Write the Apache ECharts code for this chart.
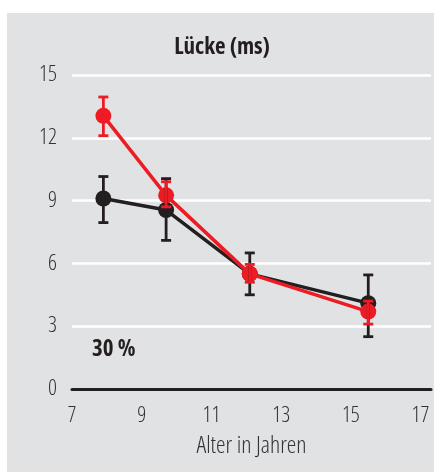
<!DOCTYPE html>
<html>
<head>
<meta charset="utf-8">
<script src="https://cdn.jsdelivr.net/npm/echarts@6/dist/echarts.min.js"></script>
<style>
  html, body { margin: 0; padding: 0; background: #ffffff; }
  #chart { width: 434px; height: 473px; }
</style>
</head>
<body>
<div id="chart"></div>
<script>
// Age groups (years) at which the gap length was measured
const ages = [7.9, 9.7, 12.1, 15.5];

// Black group: mean gap and error range (ms)
const blackMean = [9.1, 8.55, 5.5, 4.1];
const blackLow  = [7.95, 7.1, 4.5, 2.5];
const blackHigh = [10.15, 10.05, 6.5, 5.45];

// Red group: mean gap and error range (ms)
const redMean = [13.05, 9.25, 5.5, 3.7];
const redLow  = [12.1, 8.7, 5.1, 3.1];
const redHigh = [13.95, 9.9, 5.95, 4.2];

const xTicks = [7, 9, 11, 13, 15, 17];
const yTicks = [0, 3, 6, 9, 12, 15];

const BLACK = '#231f20';
const RED = '#ed1c24';
const FONT = '"Open Sans", "Liberation Sans", sans-serif';

function pairs(xs, ys) { return xs.map((x, i) => [x, ys[i]]); }
function ranges(xs, lo, hi) { return xs.map((x, i) => [x, lo[i], hi[i]]); }

function errorBars(color, lowArr, highArr, z) {
  return {
    type: 'custom',
    z: z,
    silent: true,
    data: ranges(ages, lowArr, highArr),
    renderItem: function (params, api) {
      const x = api.value(0);
      const lo = api.coord([x, api.value(1)]);
      const hi = api.coord([x, api.value(2)]);
      const half = 5;
      const style = { stroke: color, lineWidth: 2.8 };
      return {
        type: 'group',
        children: [
          { type: 'line', shape: { x1: lo[0], y1: lo[1], x2: hi[0], y2: hi[1] }, style: style },
          { type: 'line', shape: { x1: hi[0] - half, y1: hi[1], x2: hi[0] + half, y2: hi[1] }, style: style },
          { type: 'line', shape: { x1: lo[0] - half, y1: lo[1], x2: lo[0] + half, y2: lo[1] }, style: style }
        ]
      };
    }
  };
}

const chart = echarts.init(document.getElementById('chart'), null, { renderer: 'canvas' });

// Condensed light face for the axis text
const tickText = { fontStyle: 'condensed', fontWeight: 300, fontFamily: FONT, fontSize: 22, color: '#333333' };

chart.setOption({
  animation: false,
  backgroundColor: '#ffffff',
  graphic: [
    { type: 'rect', z: -10, shape: { x: 7, y: 13, width: 427, height: 459 }, style: { fill: '#e1e2e4' } },
    { type: 'text', x: 222, y: 47, style: { text: 'Lücke (ms)', font: 'condensed bold 23px ' + FONT, fill: '#231f20', textAlign: 'center', textVerticalAlign: 'middle' } },
    { type: 'text', x: 92, y: 349, style: { text: '30 %', font: 'condensed bold 23px ' + FONT, fill: '#231f20', textAlign: 'left', textVerticalAlign: 'middle' } }
  ],
  grid: { left: 72, right: 0, top: 75, bottom: 84, containLabel: false },
  xAxis: {
    type: 'value',
    min: 7,
    max: 17.3,
    interval: 2,
    name: 'Alter in Jahren',
    nameLocation: 'middle',
    nameGap: 45,
    nameTextStyle: Object.assign({}, tickText, { fontSize: 24, verticalAlign: 'top' }),
    axisLine: { show: true, onZero: false, lineStyle: { color: BLACK, width: 3 } },
    axisTick: { show: false },
    splitLine: { show: false },
    axisLabel: Object.assign({
      margin: 16,
      formatter: function (v) { return xTicks.indexOf(v) >= 0 ? String(v) : ''; }
    }, tickText)
  },
  yAxis: {
    type: 'value',
    min: 0,
    max: 15,
    interval: 3,
    axisLine: { show: false },
    axisTick: { show: false },
    splitLine: { show: true, lineStyle: { color: '#ffffff', width: 2.5 } },
    axisLabel: Object.assign({
      margin: 15,
      formatter: function (v) { return yTicks.indexOf(v) >= 0 ? String(v) : ''; }
    }, tickText)
  },
  series: [
    {
      type: 'line',
      z: 2,
      data: pairs(ages, blackMean),
      symbol: 'circle',
      symbolSize: 16,
      lineStyle: { color: BLACK, width: 3.5 },
      itemStyle: { color: BLACK },
      silent: true
    },
    {
      type: 'line',
      z: 3,
      data: pairs(ages, redMean),
      symbol: 'circle',
      symbolSize: 16,
      lineStyle: { color: RED, width: 3.5 },
      itemStyle: { color: RED },
      silent: true
    },
    errorBars(BLACK, blackLow, blackHigh, 4),
    errorBars(RED, redLow, redHigh, 5)
  ]
});
</script>
</body>
</html>
